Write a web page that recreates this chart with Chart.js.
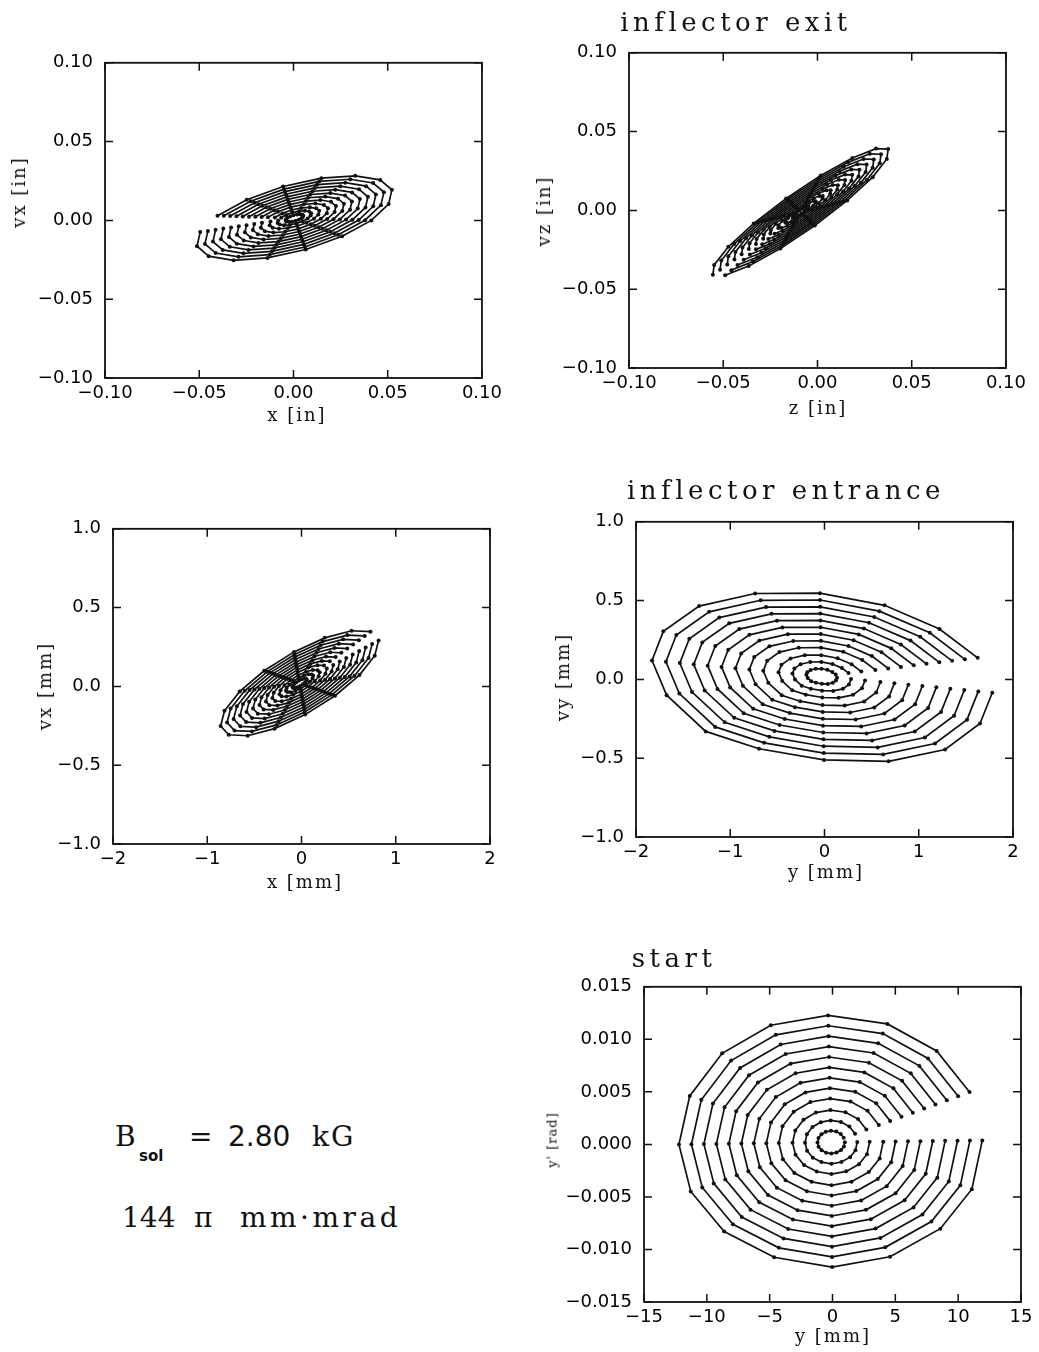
<!DOCTYPE html>
<html><head><meta charset="utf-8">
<script src="https://cdn.jsdelivr.net/npm/chart.js@4"></script>
<style>
body{margin:0;background:#fff;width:1039px;height:1352px;position:relative;overflow:hidden;font-family:"DejaVu Serif",serif;color:#111}
canvas{position:absolute}
.t{position:absolute;white-space:pre;transform:translate(-50%,-50%);line-height:1}
.r{transform:translate(-50%,-50%) rotate(-90deg)}
.ttl{font-size:26px;letter-spacing:4.5px}
.ax{font-size:18px;letter-spacing:2px}
.b{position:absolute;white-space:pre;line-height:1;font-size:28px;transform:translateY(-50%)}
</style></head><body>
<canvas id="c1" width="492" height="378"></canvas>
<canvas id="c2" width="492" height="378"></canvas>
<canvas id="c3" width="492" height="378"></canvas>
<canvas id="c4" width="492" height="378"></canvas>
<canvas id="c5" width="492" height="378"></canvas>

<div class="t ttl" style="left:736px;top:22px">inflector exit</div>
<div class="t ttl" style="left:786px;top:490px">inflector entrance</div>
<div class="t ttl" style="left:674px;top:958px">start</div>

<div class="t ax" style="left:297px;top:415px">x [in]</div>
<div class="t ax r" style="left:19px;top:192px">vx [in]</div>
<div class="t ax" style="left:818px;top:408px">z [in]</div>
<div class="t ax r" style="left:544px;top:211px">vz [in]</div>
<div class="t ax" style="left:305px;top:882px">x [mm]</div>
<div class="t ax r" style="left:45px;top:686px">vx [mm]</div>
<div class="t ax" style="left:826px;top:872px">y [mm]</div>
<div class="t ax r" style="left:563px;top:677px">vy [mm]</div>
<div class="t ax" style="left:833px;top:1336px">y [mm]</div>
<div class="t ax r" style="left:552px;top:1140px;font-size:13px;letter-spacing:1px">y' [rad]</div>

<div class="b" style="left:115px;top:1137px">B</div>
<div class="b" style="left:139px;top:1156px;font-family:'DejaVu Sans';font-size:15px;font-weight:bold">sol</div>
<div class="b" style="left:189px;top:1137px">=</div>
<div class="b" style="left:228px;top:1137px;font-family:'DejaVu Sans'">2.80</div>
<div class="b" style="left:312px;top:1137px;letter-spacing:2px">kG</div>
<div class="b" style="left:122px;top:1218px">144</div>
<div class="b" style="left:194px;top:1218px">π</div>
<div class="b" style="left:240px;top:1218px;letter-spacing:3.5px">mm·mrad</div>

<script>
// ---- data: 12 nested rings of 16 points each ----
// ring radii (mm) read on the "start" plot, innermost to outermost
const ringRadiusMm = [1.1, 2.1, 3.1, 4.2, 5.2, 6.2, 7.2, 8.2, 9.2, 10.2, 11.2, 12.2];

// outermost ring, 16 points, per panel (in plot order along the ring)
const exitX_x  = [-0.0495,-0.0512,-0.0450,-0.0318,-0.0138,0.0065,0.0258,0.0413,0.0505,0.0522,0.0460,0.0328,0.0148,-0.0055,-0.0248,-0.0403];
const exitX_vx = [-0.0074,-0.0164,-0.0227,-0.0253,-0.0238,-0.0185,-0.0101,0.0000,0.0104,0.0194,0.0257,0.0283,0.0268,0.0215,0.0131,0.0030];
const exitX_center = [0.0005, 0.0015];

const exitZ_z  = [-0.0555,-0.0548,-0.0473,-0.0338,-0.0166,0.0017,0.0185,0.0310,0.0375,0.0368,0.0293,0.0158,-0.0014,-0.0197,-0.0365,-0.0490];
const exitZ_vz = [-0.0409,-0.0346,-0.0231,-0.0083,0.0076,0.0222,0.0333,0.0392,0.0389,0.0326,0.0211,0.0063,-0.0096,-0.0242,-0.0353,-0.0412];
const exitZ_center = [-0.009, -0.001];

const entX_x  = [0.818,0.777,0.615,0.356,0.039,-0.286,-0.571,-0.772,-0.858,-0.817,-0.655,-0.396,-0.079,0.246,0.531,0.732];
const entX_vx = [0.292,0.195,0.072,-0.059,-0.179,-0.268,-0.313,-0.307,-0.252,-0.155,-0.032,0.099,0.219,0.308,0.353,0.347];
const entX_center = [-0.02, 0.02];

const entY_y  = [1.78,1.65,1.28,0.68,-0.005,-0.695,-1.26,-1.675,-1.83,-1.71,-1.33,-0.736,-0.049,0.637,1.22,1.625];
const entY_vy = [-0.085,-0.28,-0.445,-0.52,-0.511,-0.44,-0.33,-0.10,0.12,0.305,0.465,0.545,0.547,0.47,0.32,0.137];
const entY_center = [-0.03, 0.02];

const start_y  = [11.92,11.09,8.58,4.58,-0.03,-4.64,-8.62,-11.28,-12.22,-11.36,-8.78,-4.91,-0.35,4.37,8.29,10.90];
const start_yp = [0.00038,-0.00426,-0.00802,-0.01069,-0.01168,-0.01074,-0.00830,-0.00448,0.0,0.00461,0.00867,0.01134,0.01228,0.01147,0.00890,0.00498];
const start_center = [-0.1, 0.0002];

// tick values and labels
const ticksIn   = [-0.10,-0.05,0,0.05,0.10];
const labelsIn  = ["\u22120.10","\u22120.05","0.00","0.05","0.10"];
const ticksMmX  = [-2,-1,0,1,2];
const labelsMmX = ["\u22122","\u22121","0","1","2"];
const ticksMmV  = [-1,-0.5,0,0.5,1];
const labelsMmV = ["\u22121.0","\u22120.5","0.0","0.5","1.0"];
const ticksStartX  = [-15,-10,-5,0,5,10,15];
const labelsStartX = ["\u221215","\u221210","\u22125","0","5","10","15"];
const ticksStartY  = [-0.015,-0.010,-0.005,0,0.005,0.010,0.015];
const labelsStartY = ["\u22120.015","\u22120.010","\u22120.005","0.000","0.005","0.010","0.015"];

// ---- building ----
function rings(ox, oy, c){
  const outer = ringRadiusMm[ringRadiusMm.length-1];
  return ringRadiusMm.map(r => ({
    data: ox.map((x,j)=>({x: c[0]+(x-c[0])*r/outer, y: c[1]+(oy[j]-c[1])*r/outer})),
    showLine:true, borderColor:'#111', backgroundColor:'#111', borderWidth:1.7,
    pointRadius:2, pointHoverRadius:2, pointBorderWidth:0, tension:0
  }));
}

const framePlugin = {
  id:'frame',
  afterDraw(chart){
    const {ctx, chartArea:a, scales:{x,y}} = chart;
    ctx.save(); ctx.strokeStyle='#111'; ctx.lineWidth=1.8;
    ctx.strokeRect(a.left,a.top,a.right-a.left,a.bottom-a.top);
    ctx.lineWidth=1.5; ctx.beginPath();
    x.ticks.forEach(t=>{const p=x.getPixelForValue(t.value);
      ctx.moveTo(p,a.bottom); ctx.lineTo(p,a.bottom-8); ctx.moveTo(p,a.top); ctx.lineTo(p,a.top+8);});
    y.ticks.forEach(t=>{const p=y.getPixelForValue(t.value);
      ctx.moveTo(a.left,p); ctx.lineTo(a.left+8,p); ctx.moveTo(a.right,p); ctx.lineTo(a.right-8,p);});
    ctx.stroke(); ctx.restore();
  }
};

const tickFont = {family:"'DejaVu Sans', sans-serif", size:18};

function makeChart(id, L, T, datasets, xt, xl, yt, yl){
  const cv = document.getElementById(id);
  cv.style.left = (L-90)+'px'; cv.style.top = (T-20)+'px';
  new Chart(cv, {
    type:'scatter',
    data:{datasets},
    options:{
      responsive:false, animation:false, devicePixelRatio:1,
      layout:{padding:{left:0,top:20,right:25,bottom:0}},
      plugins:{legend:{display:false}, tooltip:{enabled:false}},
      scales:{
        x:{type:'linear', min:xt[0], max:xt[xt.length-1],
           grid:{display:false, drawTicks:false}, border:{display:false},
           afterBuildTicks:s=>{s.ticks = xt.map(v=>({value:v}));},
           afterFit:s=>{s.height=40;},
           ticks:{padding:5, color:'#000', font:tickFont, maxRotation:0, autoSkip:false,
                  callback:(v,i)=>xl[i]}},
        y:{type:'linear', min:yt[0], max:yt[yt.length-1],
           grid:{display:false, drawTicks:false}, border:{display:false},
           afterBuildTicks:s=>{s.ticks = yt.map(v=>({value:v}));},
           afterFit:s=>{s.width=90;},
           ticks:{padding:12, color:'#000', font:tickFont, autoSkip:false,
                  callback:(v,i)=>yl[i]}}
      }
    },
    plugins:[framePlugin]
  });
}

makeChart('c1', 105, 60, rings(exitX_x, exitX_vx, exitX_center), ticksIn, labelsIn, ticksIn, labelsIn);
makeChart('c2', 629, 50, rings(exitZ_z, exitZ_vz, exitZ_center), ticksIn, labelsIn, ticksIn, labelsIn);
makeChart('c3', 113, 526, rings(entX_x, entX_vx, entX_center), ticksMmX, labelsMmX, ticksMmV, labelsMmV);
makeChart('c4', 636, 519, rings(entY_y, entY_vy, entY_center), ticksMmX, labelsMmX, ticksMmV, labelsMmV);
makeChart('c5', 644, 984, rings(start_y, start_yp, start_center), ticksStartX, labelsStartX, ticksStartY, labelsStartY);
</script>
</body></html>
